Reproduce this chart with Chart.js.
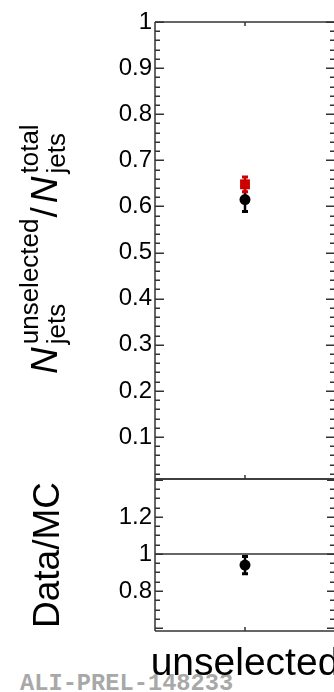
<!DOCTYPE html>
<html>
<head>
<meta charset="utf-8">
<script src="https://cdn.jsdelivr.net/npm/chart.js@4/dist/chart.umd.min.js"></script>
<style>
html,body{margin:0;padding:0;background:#fff;overflow:hidden;width:334px;height:692px;}
#wrap{position:relative;width:334px;height:692px;overflow:hidden;}
#prel{position:absolute;left:20px;top:672px;font-family:"Liberation Mono",monospace;font-weight:bold;font-size:23.7px;line-height:24px;color:#a8a8a8;white-space:nowrap;}
#c1{position:absolute;left:0;top:0;}
#c2{position:absolute;left:0;top:460px;}
</style>
</head>
<body>
<div id="wrap">
<div id="prel">ALI-PREL-148233</div>
<canvas id="c1" width="340" height="481"></canvas>
<canvas id="c2" width="340" height="232"></canvas>
</div>
<script>
// ---- data ----
const categories = ['unselected'];
const dataValues = [0.615];
const dataErrors = [0.026];
const mcValues = [0.648];
const mcErrors = [0.016];
const ratioValues = [0.94];
const ratioErrors = [0.047];
const topTickValues = [0.1,0.2,0.3,0.4,0.5,0.6,0.7,0.8,0.9,1];
const topTickLabels = ['0.1','0.2','0.3','0.4','0.5','0.6','0.7','0.8','0.9','1'];
const ratioTickValues = [0.8,1,1.2];
const ratioTickLabels = ['0.8','1','1.2'];
const topRange = [0.009, 1];
const ratioRange = [0.584, 1.405];

const FONT = '"Liberation Sans", Arial, Helvetica, sans-serif';
const FRAME = '#333';

function drawErrors(chart, values, errors, color) {
  const ctx = chart.ctx, xs = chart.scales.x, ys = chart.scales.y;
  ctx.save();
  ctx.strokeStyle = color;
  values.forEach((v, i) => {
    const x = xs.getPixelForValue(i);
    const y1 = ys.getPixelForValue(v - errors[i]);
    const y2 = ys.getPixelForValue(v + errors[i]);
    ctx.lineWidth = 2.5;
    ctx.beginPath(); ctx.moveTo(x, y1); ctx.lineTo(x, y2); ctx.stroke();
    ctx.lineWidth = 3;
    ctx.beginPath();
    ctx.moveTo(x - 3, y1); ctx.lineTo(x + 3, y1);
    ctx.moveTo(x - 3, y2); ctx.lineTo(x + 3, y2);
    ctx.stroke();
  });
  ctx.restore();
}

function drawYTicks(chart, minorStep, perMajor, majorLen, minorLen) {
  const ctx = chart.ctx, ys = chart.scales.y, a = chart.chartArea;
  const k0 = Math.ceil(ys.min / minorStep - 1e-6), k1 = Math.floor(ys.max / minorStep + 1e-6);
  ctx.save();
  ctx.strokeStyle = FRAME; ctx.lineWidth = 1.5;
  ctx.beginPath();
  for (let k = k0; k <= k1; k++) {
    const y = Math.round(ys.getPixelForValue(k * minorStep)) + 0.25;
    const len = (k % perMajor === 0) ? majorLen : minorLen;
    ctx.moveTo(a.left, y); ctx.lineTo(a.left + len, y);
    ctx.moveTo(a.right, y); ctx.lineTo(a.right - len, y);
  }
  ctx.stroke();
  ctx.restore();
}

function frameLine(ctx, x1, y1, x2, y2) {
  ctx.save(); ctx.strokeStyle = FRAME; ctx.lineWidth = 1.5;
  ctx.beginPath(); ctx.moveTo(x1, y1); ctx.lineTo(x2, y2); ctx.stroke(); ctx.restore();
}

const topPlugin = {
  id: 'topDecor',
  beforeDatasetsDraw(chart) {
    drawErrors(chart, dataValues, dataErrors, '#000');
    drawErrors(chart, mcValues, mcErrors, '#cc0000');
  },
  afterDraw(chart) {
    const ctx = chart.ctx, a = chart.chartArea, xs = chart.scales.x;
    frameLine(ctx, a.left, a.top, a.right, a.top);
    frameLine(ctx, a.left, a.top, a.left, a.bottom);
    frameLine(ctx, a.left, a.bottom, a.right, a.bottom);
    drawYTicks(chart, 0.02, 5, 9, 5);
    categories.forEach((c, i) => {
      const x = xs.getPixelForValue(i);
      frameLine(ctx, x, a.top, x, a.top + 4);
      frameLine(ctx, x, a.bottom, x, a.bottom - 4);
    });
    // y-axis title with sub/superscripts
    ctx.save();
    ctx.translate(56.7, 374);
    ctx.rotate(-Math.PI / 2);
    ctx.fillStyle = '#000';
    ctx.textAlign = 'left';
    ctx.textBaseline = 'alphabetic';
    let x = 0;
    const big = '37px ' + FONT, bigI = 'italic 37px ' + FONT, small = '26px ' + FONT;
    ctx.font = bigI; ctx.fillText('N', x, 0); x += ctx.measureText('N').width + 3;
    ctx.font = small;
    ctx.fillText('unselected', x, -18.4);
    ctx.fillText('jets', x, 8.5);
    x += Math.max(ctx.measureText('unselected').width, ctx.measureText('jets').width) + 1;
    ctx.font = big; ctx.fillText('/', x, 0); x += ctx.measureText('/').width + 4;
    ctx.font = bigI; ctx.fillText('N', x, 0); x += ctx.measureText('N').width + 3;
    ctx.font = small;
    ctx.fillText('total', x, -18.4);
    ctx.fillText('jets', x, 8.5);
    ctx.restore();
  }
};

const ratioPlugin = {
  id: 'ratioDecor',
  beforeDatasetsDraw(chart) {
    const ctx = chart.ctx, a = chart.chartArea, ys = chart.scales.y;
    const y1 = ys.getPixelForValue(1);
    frameLine(ctx, a.left, y1, a.right, y1);
    drawErrors(chart, ratioValues, ratioErrors, '#000');
  },
  afterDraw(chart) {
    const ctx = chart.ctx, a = chart.chartArea, xs = chart.scales.x;
    frameLine(ctx, a.left, a.top, a.right, a.top);
    frameLine(ctx, a.left, a.top, a.left, a.bottom);
    frameLine(ctx, a.left, a.bottom, a.right, a.bottom);
    drawYTicks(chart, 0.05, 4, 8, 5);
    categories.forEach((c, i) => {
      const x = xs.getPixelForValue(i);
      frameLine(ctx, x, a.bottom, x, a.bottom - 4);
    });
  }
};

const common = {
  responsive: false,
  animation: false,
  events: [],
  plugins: { legend: { display: false }, tooltip: { enabled: false } }
};

new Chart(document.getElementById('c1'), {
  type: 'line',
  data: {
    labels: categories,
    datasets: [
      { label: 'MC', data: mcValues, showLine: false, pointStyle: 'rect', pointRadius: 7,
        backgroundColor: '#cc0000', borderColor: '#cc0000', borderWidth: 0, order: 0 },
      { label: 'Data', data: dataValues, showLine: false, pointStyle: 'circle', pointRadius: 5.5,
        backgroundColor: '#000', borderColor: '#000', borderWidth: 0, order: 1 }
    ]
  },
  options: Object.assign({}, common, {
    layout: { autoPadding: false, padding: { left: 0, right: 5, top: 22, bottom: 2 } },
    scales: {
      x: { type: 'category', display: false, offset: true },
      y: {
        min: topRange[0], max: topRange[1],
        afterBuildTicks(s) { s.ticks = topTickValues.map(v => ({ value: v })); },
        afterFit(s) { s.width = 155; s.paddingTop = 0; s.paddingBottom = 0; },
        grid: { display: false, drawTicks: false },
        border: { display: false },
        ticks: { padding: 3, color: '#000', font: { family: FONT, size: 24 },
          callback: (v, i) => topTickLabels[i] }
      }
    }
  }),
  plugins: [topPlugin]
});

new Chart(document.getElementById('c2'), {
  type: 'line',
  data: {
    labels: categories,
    datasets: [
      { label: 'Data/MC', data: ratioValues, showLine: false, pointStyle: 'circle', pointRadius: 5.5,
        backgroundColor: '#000', borderColor: '#000', borderWidth: 0 }
    ]
  },
  options: Object.assign({}, common, {
    layout: { autoPadding: false, padding: { left: 0, right: 5, top: 19, bottom: 0 } },
    scales: {
      x: {
        type: 'category', offset: true,
        afterFit(s) { s.height = 61; s.paddingLeft = 0; s.paddingRight = 0; },
        grid: { display: false, drawTicks: false },
        border: { display: false },
        ticks: { padding: 10, color: '#000', font: { family: FONT, size: 39 },
          autoSkip: false, minRotation: 0, maxRotation: 0 }
      },
      y: {
        min: ratioRange[0], max: ratioRange[1],
        afterBuildTicks(s) { s.ticks = ratioTickValues.map(v => ({ value: v })); },
        afterFit(s) { s.width = 155; s.paddingTop = 0; s.paddingBottom = 0; },
        grid: { display: false, drawTicks: false },
        border: { display: false },
        title: { display: true, text: 'Data/MC', color: '#000',
          font: { family: FONT, size: 37 }, padding: { top: 27, bottom: 0 } },
        ticks: { padding: 3, color: '#000', font: { family: FONT, size: 24 },
          callback: (v, i) => ratioTickLabels[i] }
      }
    }
  }),
  plugins: [ratioPlugin]
});
</script>
</body>
</html>
